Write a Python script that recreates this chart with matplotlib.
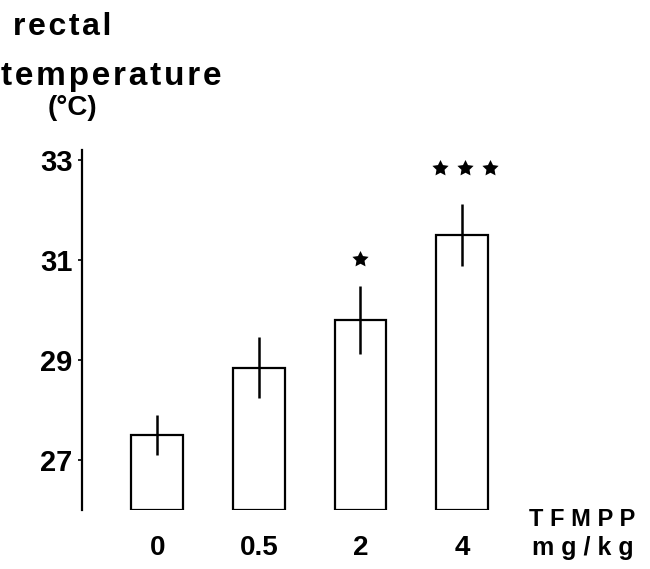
import matplotlib
matplotlib.use("Agg")
import matplotlib.pyplot as plt
import numpy as np
from matplotlib.path import Path

doses = ["0", "0.5", "2", "4"]
temps = [27.5, 28.85, 29.8, 31.5]
sem = [0.4, 0.6, 0.68, 0.62]
stars = ["", "", "*", "***"]
yticks = [27, 29, 31, 33]

plt.rcParams['font.family'] = ['Liberation Sans', 'DejaVu Sans']
plt.rcParams['font.weight'] = 'bold'

W, H = 650, 569
fig = plt.figure(figsize=(6.5, 5.69), dpi=100)
ax = fig.add_axes([82/W, 59/H, 441/W, 360/H])

# fat five-point star marker
ang = np.pi/2 + np.arange(10) * np.pi/5
rad = np.where(np.arange(10) % 2 == 0, 1.0, 0.5)
verts = np.column_stack([rad*np.cos(ang), rad*np.sin(ang)])
verts = np.vstack([verts, verts[:1]])
star = Path(verts, [Path.MOVETO] + [Path.LINETO]*9 + [Path.CLOSEPOLY])

x = list(range(len(doses)))
ax.bar(x, [t - 26 for t in temps], bottom=26, width=0.51, color='white',
       edgecolor='black', linewidth=1.6, zorder=2)
ax.errorbar(x, temps, yerr=sem, fmt='none', ecolor='black', elinewidth=1.8,
            capsize=0, zorder=3)

for xi, t, s, st in zip(x, temps, sem, stars):
    n = len(st)
    if n == 0:
        continue
    ystar = t + s + 0.55 if n == 1 else t + s + 0.72
    offs = [(k - (n - 1) / 2) * 0.245 + (0.03 if n > 1 else 0) for k in range(n)]
    ax.scatter([xi + o for o in offs], [ystar] * n, marker=star, s=150,
               color='black', zorder=4, linewidths=0)

ax.set_xlim(-0.74, 3.6)
ax.set_ylim(26, 33.2)
ax.set_yticks(yticks)
ax.set_yticklabels([str(v) for v in yticks], fontsize=21, fontweight='bold')
ax.set_xticks([])
for sp in ['top', 'right', 'bottom']:
    ax.spines[sp].set_visible(False)
ax.spines['left'].set_linewidth(1.6)
ax.tick_params(axis='y', direction='out', length=3, width=1.2, pad=4)

for xi, d in zip(x, doses):
    ax.text(xi, 25.24, d, ha='center', va='center', fontsize=20,
            fontweight='bold')

hs = "\u200a"
fig.text(582/W, 1 - 520/H, " ".join("TFMPP"), ha='center', va='center',
         fontsize=17, fontweight='bold')
fig.text(583/W, 1 - 548/H, " ".join("mg/kg"), ha='center', va='center',
         fontsize=18, fontweight='bold')

fig.text(13/W, 1 - 35/H, hs.join("rectal"), ha='left', va='baseline',
         fontsize=23, fontweight='bold')
fig.text(1/W, 1 - 85/H, hs.join("temperature"), ha='left', va='baseline',
         fontsize=24, fontweight='bold')
fig.text(72/W, 1 - 108/H, "(°C)", ha='center', va='center',
         fontsize=20, fontweight='bold')

fig.savefig("out.png", dpi=100)
